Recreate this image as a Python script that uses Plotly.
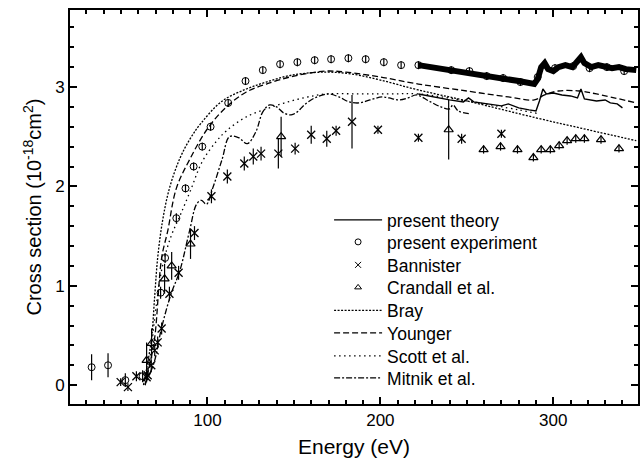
import plotly.graph_objects as go

# ---------------- data ----------------
# present theory (thin solid line)
theory_E = [222, 230, 240, 248, 251, 254, 262, 270, 274, 280, 286, 290, 292, 294, 296, 300, 305, 310, 314, 316, 318, 325, 330, 333, 337, 340]
theory_s = [2.93, 2.9, 2.87, 2.85, 2.89, 2.85, 2.83, 2.81, 2.83, 2.79, 2.77, 2.76, 2.86, 2.98, 2.93, 2.94, 2.92, 2.91, 2.89, 2.98, 2.88, 2.86, 2.87, 2.84, 2.83, 2.79]

# present experiment: high-resolution energy scan (thick band)
scan_E = [222, 230, 240, 250, 260, 270, 280, 289, 291, 293, 295, 297, 300, 303, 307, 311, 314, 316, 318, 322, 326, 330, 334, 338, 342, 348]
scan_s = [3.22, 3.2, 3.17, 3.15, 3.12, 3.09, 3.06, 3.03, 3.08, 3.2, 3.24, 3.18, 3.16, 3.2, 3.22, 3.2, 3.25, 3.3, 3.24, 3.2, 3.22, 3.2, 3.19, 3.2, 3.18, 3.17]

# present experiment: absolute data points
exp_E = [33, 42.5, 52.5, 62.5, 72.9, 75.5, 82, 87.3, 92, 97, 101.8, 112, 122, 132, 142, 152, 162, 171.5, 181.5, 191.5, 202, 212, 222,
         241, 251.5, 261.5, 271, 281, 291, 301, 311.5, 321, 331, 341]
exp_s = [0.18, 0.2, 0.05, 0.09, 0.93, 1.28, 1.68, 1.98, 2.2, 2.4, 2.6, 2.84, 3.06, 3.17, 3.23, 3.25, 3.27, 3.28, 3.29, 3.28, 3.25, 3.22, 3.22,
         3.17, 3.16, 3.11, 3.09, 3.05, 3.1, 3.19, 3.21, 3.19, 3.2, 3.16]
exp_err = [0.13, 0.12, 0.07, 0.06, 0.06, 0.05, 0.05, 0.04, 0.04, 0.04, 0.04, 0.04, 0.04, 0.04, 0.04, 0.04, 0.04, 0.04, 0.04, 0.04, 0.04, 0.04, 0.04,
           0.04, 0.04, 0.04, 0.04, 0.04, 0.04, 0.04, 0.04, 0.04, 0.04, 0.04]

# Bannister
ban_E = [49.8, 54, 58.9, 64.8, 65.4, 67.5, 69.5, 71.2, 73.5, 78, 83.3, 92.5, 102.3, 111.5, 121.3, 126.5, 131, 141, 150.7, 160, 169, 174.4, 183.6, 198.6, 222, 247, 270]
ban_s = [0.03, -0.02, 0.09, 0.08, 0.1, 0.2, 0.35, 0.43, 0.57, 0.92, 1.13, 1.53, 1.9, 2.1, 2.23, 2.3, 2.33, 2.33, 2.38, 2.52, 2.48, 2.56, 2.65, 2.57, 2.49, 2.48, 2.53]
ban_err = [0.04, 0.04, 0.05, 0.05, 0.05, 0.06, 0.06, 0.06, 0.06, 0.07, 0.07, 0.07, 0.07, 0.07, 0.07, 0.08, 0.07, 0.15, 0.06, 0.09, 0.08, 0.05, 0.27, 0.04, 0.04, 0.05, 0.04]

# Crandall et al.
cra_E = [64.8, 67.7, 75.2, 79.3, 90.2, 142.6, 239.5, 259.7, 269.5, 279.3, 288.5, 293, 298.3, 303.4, 308, 313, 318, 327.6, 338]
cra_s = [0.25, 0.42, 1.07, 1.2, 1.42, 2.5, 2.57, 2.37, 2.4, 2.37, 2.29, 2.37, 2.37, 2.41, 2.46, 2.48, 2.48, 2.47, 2.38]
cra_err = [0.18, 0.15, 0.15, 0.14, 0.15, 0.2, 0.3, 0.04, 0.04, 0.04, 0.04, 0.04, 0.04, 0.04, 0.04, 0.04, 0.04, 0.04, 0.04]

# Bray
bray_E = [63, 65, 67.7, 69.5, 71.2, 74, 78, 84, 90, 96.5, 108.6, 122.5, 134, 149, 168.6, 183.6, 200, 222, 250, 290, 320, 348]
bray_s = [0.0, 0.18, 0.48, 0.9, 1.28, 1.65, 1.98, 2.28, 2.48, 2.64, 2.86, 2.98, 3.05, 3.12, 3.15, 3.13, 3.07, 2.97, 2.86, 2.69, 2.57, 2.46]

# Younger
you_E = [64, 66.5, 69.5, 73.5, 77, 82, 90, 100, 111, 122.5, 134, 150, 168, 180, 200, 222, 250, 274, 289, 295, 303, 315, 325, 348]
you_s = [0.0, 0.2, 0.48, 1.28, 1.55, 1.98, 2.28, 2.58, 2.8, 2.95, 3.03, 3.11, 3.16, 3.15, 3.1, 3.03, 2.96, 2.9, 2.87, 2.92, 2.96, 2.96, 2.93, 2.84]

# Scott et al.
sco_E = [64, 67, 70, 74, 79, 84, 90, 97, 105, 111, 122.5, 137.5, 153, 168.6, 187.6, 205, 222, 250, 280, 292]
sco_s = [0.0, 0.3, 0.75, 1.2, 1.5, 1.7, 1.95, 2.25, 2.45, 2.56, 2.7, 2.8, 2.88, 2.93, 2.93, 2.93, 2.93, 2.86, 2.77, 2.73]

# Mitnik et al.
mit_E = [64, 69, 73.5, 79, 84, 89.6, 93.7, 96.5, 99.4, 103, 108.6, 112.7, 118, 123, 128, 132, 136, 140, 144, 148.4, 152, 156, 162, 170, 176, 182, 188, 194, 201, 205, 210.7, 216, 221, 228, 235, 240, 242, 245, 252]
mit_s = [0.02, 0.22, 0.58, 0.92, 1.15, 1.55, 1.82, 1.86, 1.82, 1.98, 2.28, 2.5, 2.49, 2.43, 2.55, 2.75, 2.82, 2.8, 2.74, 2.72, 2.75, 2.82, 2.89, 2.93, 2.9, 2.85, 2.84, 2.87, 2.9, 2.89, 2.87, 2.89, 2.92, 2.86, 2.8, 2.78, 2.82, 2.76, 2.73]

# ---------------- figure ----------------
fig = go.Figure()
BLK = "black"
FONT = "Liberation Sans, Arial, Helvetica, sans-serif"

# legend slots (one single-item legend per entry, stacked like the reference)
legend_names = ["present theory", "present experiment", "Bannister", "Crandall et al.",
                "Bray", "Younger", "Scott et al.", "Mitnik et al."]
legend_ids = ["legend"] + ["legend%d" % i for i in range(2, 9)]

fig.add_trace(go.Scatter(x=theory_E, y=theory_s, mode="lines", name=legend_names[0], legend=legend_ids[0],
                         line=dict(color=BLK, width=1.4)))
fig.add_trace(go.Scatter(x=scan_E, y=scan_s, mode="lines", name="present experiment (scan)",
                         showlegend=False, line=dict(color=BLK, width=6)))
fig.add_trace(go.Scatter(x=exp_E, y=exp_s, mode="markers", name=legend_names[1], showlegend=False,
                         marker=dict(symbol="circle-open", size=7, color=BLK, line=dict(width=1)),
                         error_y=dict(type="data", array=exp_err, color=BLK, thickness=1.2, width=0)))
fig.add_trace(go.Scatter(x=ban_E, y=ban_s, mode="markers", name=legend_names[2], showlegend=False,
                         marker=dict(symbol="x-thin-open", size=8, color=BLK, line=dict(width=1.3, color=BLK)),
                         error_y=dict(type="data", array=ban_err, color=BLK, thickness=1.2, width=0)))
fig.add_trace(go.Scatter(x=cra_E, y=cra_s, mode="markers", name=legend_names[3], showlegend=False,
                         marker=dict(symbol="triangle-up-open", size=8, color=BLK, line=dict(width=1.2)),
                         error_y=dict(type="data", array=cra_err, color=BLK, thickness=1.2, width=0)))
# legend-only entries for the marker series (smaller symbols, as in the reference key)
for nm, sym, lid in [(legend_names[1], "circle-open", legend_ids[1]),
                     (legend_names[2], "x-thin-open", legend_ids[2]),
                     (legend_names[3], "triangle-up-open", legend_ids[3])]:
    fig.add_trace(go.Scatter(x=[None], y=[None], mode="markers", name=nm, legend=lid,
                             marker=dict(symbol=sym, size=6, color=BLK, line=dict(width=1, color=BLK))))

fig.add_trace(go.Scatter(x=bray_E, y=bray_s, mode="lines", name=legend_names[4], legend=legend_ids[4], line_shape="spline",
                         line=dict(color=BLK, width=1.3, dash="2px,1.5px")))
fig.add_trace(go.Scatter(x=you_E, y=you_s, mode="lines", name=legend_names[5], legend=legend_ids[5], line_shape="spline",
                         line=dict(color=BLK, width=1.3, dash="6px,3px")))
fig.add_trace(go.Scatter(x=sco_E, y=sco_s, mode="lines", name=legend_names[6], legend=legend_ids[6], line_shape="spline",
                         line=dict(color=BLK, width=1.3, dash="1.5px,3.5px")))
fig.add_trace(go.Scatter(x=mit_E, y=mit_s, mode="lines", name=legend_names[7], legend=legend_ids[7], line_shape="spline",
                         line=dict(color=BLK, width=1.3, dash="6px,2px,2px,2px")))

axis_common = dict(showline=True, linecolor=BLK, linewidth=2, mirror="ticks",
                   ticks="inside", tickcolor=BLK, tickwidth=1.5, ticklen=7,
                   showgrid=False, zeroline=False,
                   tickfont=dict(family=FONT, size=17, color=BLK))

fig.update_xaxes(range=[20.5, 349], tickvals=[100, 200, 300],
                 minor=dict(ticks="inside", ticklen=4, tickwidth=1.5, tickcolor=BLK, dtick=10, tick0=0, showgrid=False),
                 title=dict(text="Energy (eV)", font=dict(family=FONT, size=21, color=BLK), standoff=10),
                 **axis_common)
fig.update_yaxes(range=[-0.19, 3.775], tickvals=[0, 1, 2, 3],
                 minor=dict(ticks="inside", ticklen=4, tickwidth=1.5, tickcolor=BLK, dtick=0.2, tick0=0, showgrid=False),
                 title=dict(text="Cross section (10<sup>-18</sup>cm<sup>2</sup>)", font=dict(family=FONT, size=20, color=BLK), standoff=8),
                 **axis_common)

# legend layout: item centres (in pixels from top of the 466 px page) of the reference key
plot_top, plot_bottom = 10, 404
item_centres_px = [220, 242, 265, 287.5, 310.5, 333, 356, 378]
legend_layout = {}
for lid, ypx in zip(legend_ids, item_centres_px):
    legend_layout[lid] = dict(x=(330 - 70) / 570, y=(plot_bottom - ypx) / (plot_bottom - plot_top),
                              xanchor="left", yanchor="middle",
                              bgcolor="rgba(0,0,0,0)", borderwidth=0, itemwidth=48,
                              font=dict(family=FONT, size=17.5, color=BLK))

fig.update_layout(
    width=644, height=466,
    margin=dict(l=70, r=4, t=10, b=62),
    paper_bgcolor="white", plot_bgcolor="white",
    font=dict(family=FONT, color=BLK),
    **legend_layout,
)

fig.write_html("out.html")
